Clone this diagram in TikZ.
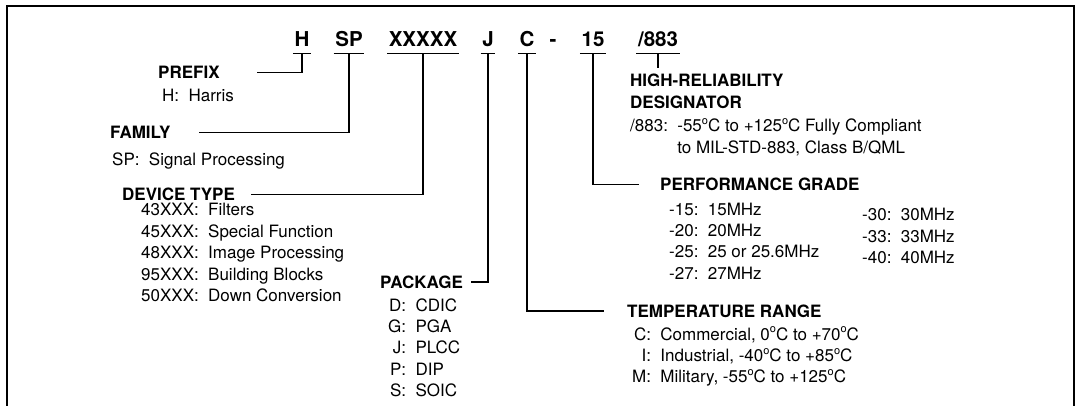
\documentclass[tikz,border=0pt]{standalone}
\usepackage{fontspec}
\setmainfont{TeX Gyre Heros}
\newcommand{\colgap}{\hspace{0.55em}}
\newcommand{\degsup}{\raisebox{0.42em}{\fontsize{11}{11}\selectfont o}}

\begin{document}
\begin{tikzpicture}[x=1pt, y=-1pt,
    code/.style={font=\fontsize{20.5}{24}\selectfont\bfseries, inner xsep=1.5pt, inner ysep=7pt, text height=14.7pt, text depth=0pt},
    head/.style={font=\fontsize{17}{21.4}\selectfont\bfseries, inner sep=0pt, text height=12.2pt, text depth=0pt, anchor=base west},
    item/.style={font=\fontsize{17}{21.4}\selectfont, inner sep=0pt, anchor=base west},
    wire/.style={line width=1.2pt}]
    \useasboundingbox (0,0) rectangle (1076,406);
    % frame
    \path[draw, line width=1.8pt] (7,406) |- (1074,6) -- (1074,406);
    % part number
    \node[code] (hcode) at (302,39) {H};
    \node[code] (spcode) at (349,39) {SP};
    \node[code] (typecode) at (423,39) {XXXXX};
    \node[code] (pkgcode) at (488,39) {J};
    \node[code] (tempcode) at (527,39) {C};
    \node[code] (dash) at (553,39) {-};
    \node[code] (gradecode) at (593,39) {15};
    \node[code] (hrcode) at (658,39) {/883};
    \foreach \c in {hcode,spcode,typecode,pkgcode,tempcode,gradecode,hrcode}
        \path[draw, wire] (\c.south west) -- (\c.south east);
    % left fields
    \node[head] (prefix) at (158,79) {PREFIX};
    \node[item] (prefixlist) at (162,102) {H:\colgap Harris};
    \node[head] (family) at (110,139) {FAMILY};
    \node[item] (familylist) at (112,166) {SP:\colgap Signal Processing};
    \node[head] (devtype) at (122,201) {DEVICE TYPE};
    \node[item] (devlist) at (141,216) {\begin{tabular}[t]{@{}r@{:\colgap}l@{}}
        43XXX & Filters\\ 45XXX & Special Function\\ 48XXX & Image Processing\\
        95XXX & Building Blocks\\ 50XXX & Down Conversion\end{tabular}};
    \node[head] (package) at (380,288) {PACKAGE};
    \node[item] (pkglist) at (388,311) {\begin{tabular}[t]{@{}r@{:\colgap}l@{}}
        D & CDIC\\ G & PGA\\ J & PLCC\\ P & DIP\\ S & SOIC\end{tabular}};
    % right fields
    \node[head] (hirel) at (630,87) {HIGH-RELIABILITY};
    \node[head] (desig) at (630,109) {DESIGNATOR};
    \node[item] (hrlist) at (630,132) {\begin{tabular}[t]{@{}l@{\colgap}l@{}}
        /883: & -55\degsup C to +125\degsup C Fully Compliant\\
              & to MIL-STD-883, Class B/QML\end{tabular}};
    \node[head] (grade) at (660,191) {PERFORMANCE GRADE};
    \node[item] (gradelist) at (669,215) {\begin{tabular}[t]{@{}r@{:\colgap}l@{}}
        -15 & 15MHz\\ -20 & 20MHz\\ -25 & 25 or 25.6MHz\\ -27 & 27MHz\end{tabular}};
    \node[item] (gradelistb) at (862,221) {\begin{tabular}[t]{@{}r@{:\colgap}l@{}}
        -30 & 30MHz\\ -33 & 33MHz\\ -40 & 40MHz\end{tabular}};
    \node[head] (temp) at (627,317) {TEMPERATURE RANGE};
    \node[item] (templist) at (632,340) {\begin{tabular}[t]{@{}r@{:\colgap}l@{}}
        C & Commercial, 0\degsup C to +70\degsup C\\
        I & Industrial, -40\degsup C to +85\degsup C\\
        M & Military, -55\degsup C to +125\degsup C\end{tabular}};
    % leaders
    \path[draw, wire, shorten >=37.6pt] (hcode.south) |- (prefix.east);
    \path[draw, wire, shorten >=28pt] (spcode.south) |- (family.east);
    \path[draw, wire, shorten >=15.6pt] (typecode.south) |- (devtype.east);
    \path[draw, wire, shorten >=8pt] (pkgcode.south) |- (package.east);
    \path[draw, wire, shorten >=23pt] (tempcode.south) |- (temp.west);
    \path[draw, wire, shorten >=21pt] (gradecode.south) |- (grade.west);
    \path[draw, wire] (hrcode.south) -- ++(0,14);
\end{tikzpicture}
\end{document}
